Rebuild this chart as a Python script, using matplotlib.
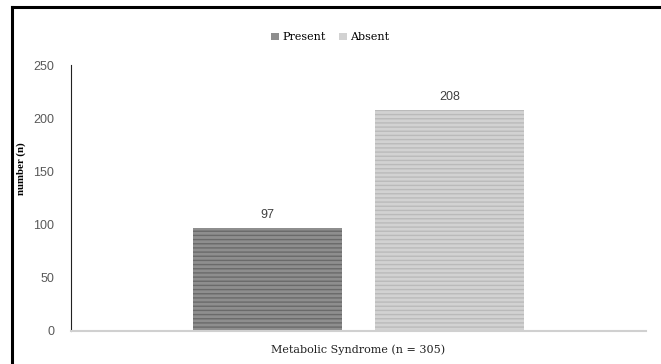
import numpy as np
import matplotlib.pyplot as plt
from matplotlib.lines import Line2D

category = "Metabolic Syndrome (n = 305)"
groups = ["Present", "Absent"]
counts = [97, 208]
y_ticks = [0, 50, 100, 150, 200, 250]

face_colors = ["#8e8e8e", "#d2d2d2"]
stripe_colors = ["#6a6a6a", "#bababa"]

plt.rcParams["hatch.linewidth"] = 1.0

fig = plt.figure(figsize=(6.61, 3.64), dpi=100)
ax = fig.add_axes([0.1074, 0.0907, 0.8699, 0.7307])

width = 0.259
offsets = [-0.158, 0.158]
for off, n, fc, sc, lab in zip(offsets, counts, face_colors, stripe_colors, groups):
    ax.bar(off, n, width=width, color=fc, edgecolor=sc, hatch="----",
           linewidth=0, label=lab)
    ax.annotate(str(n), (off, n), xytext=(0, 5), textcoords="offset points",
                ha="center", va="bottom", fontsize=9, color="#404040",
                family="Liberation Sans")

ax.set_xlim(-0.5, 0.5)
ax.set_ylim(0, 250)
ax.set_yticks(y_ticks)
ax.set_xticks([])
ax.tick_params(axis="y", length=0, pad=12, labelsize=9, labelcolor="#595959")
for t in ax.get_yticklabels():
    t.set_family("Liberation Sans")

for s in ["top", "right"]:
    ax.spines[s].set_visible(False)
ax.spines["left"].set_color("#222222")
ax.spines["left"].set_linewidth(0.8)
ax.spines["bottom"].set_color("#d0d0d0")
ax.spines["bottom"].set_linewidth(1.5)

ax.set_ylabel("number (n)", fontsize=7.8, fontweight="bold",
              family="Liberation Serif", labelpad=4)
ax.yaxis.set_label_coords(-0.078, 0.61)
ax.set_xlabel(category, fontsize=8, family="DejaVu Serif",
              color="#222222", labelpad=10)

leg = ax.legend(loc="center", bbox_to_anchor=(0.5, 0.897), bbox_transform=fig.transFigure,
                ncol=2, frameon=False, handlelength=0.7, handleheight=0.7,
                handletextpad=0.3, columnspacing=1.2,
                prop={"family": "DejaVu Serif", "size": 8})
for h in leg.legend_handles:
    h.set_hatch(None)

# frame lines at top and left of the figure
fig.add_artist(Line2D([0.018, 1.0], [0.981, 0.981], color="black", lw=2.2,
                      transform=fig.transFigure))
fig.add_artist(Line2D([0.018, 0.018], [0.0, 0.981], color="black", lw=2.2,
                      transform=fig.transFigure))

fig.savefig("out.png", dpi=100)
